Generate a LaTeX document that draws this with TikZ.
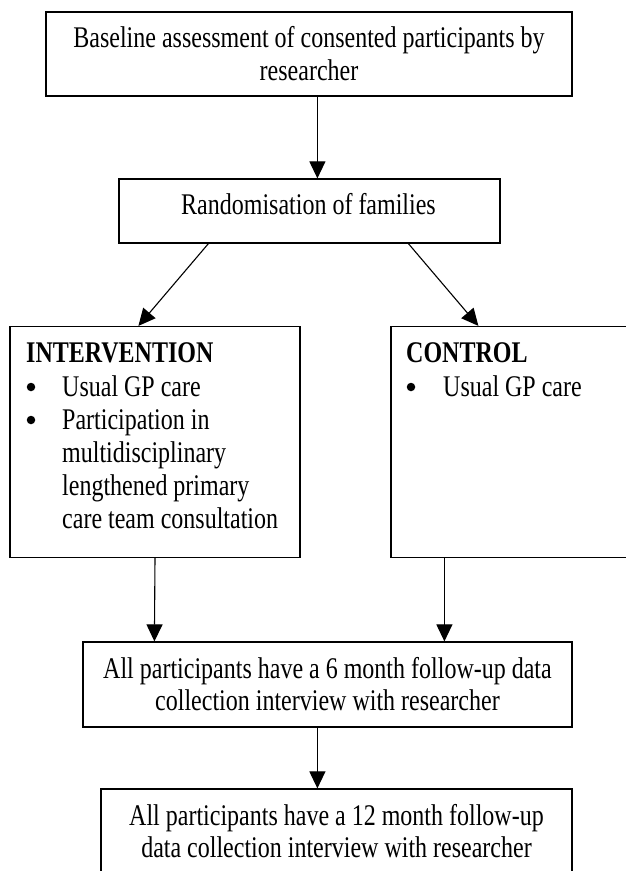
\documentclass[tikz,border=0pt]{standalone}
\usepackage{fontspec}
\setmainfont{Liberation Serif}[FakeStretch=0.80]
\usetikzlibrary{arrows.meta}
\tikzset{
  boxwh/.style 2 args={draw, line width=1.2pt, minimum width=#1, minimum height=#2, inner sep=0pt},
  conn/.style={-{Triangle[length=17pt,width=16pt]}, line width=1.1pt},
  txt/.style={inner sep=0pt, anchor=base, font=\fontsize{30}{33}\selectfont},
  txtl/.style={inner sep=0pt, anchor=base west, font=\fontsize{30}{33}\selectfont},
  txtb/.style={inner sep=0pt, anchor=base west, font=\fontsize{30}{33}\selectfont\bfseries},
  bul/.style={circle, fill, inner sep=0pt, minimum size=8.5pt},
}
\begin{document}
\begin{tikzpicture}[x=1pt, y=-1pt]
\useasboundingbox (0,0) rectangle (626,871);
\fill[white] (0,0) rectangle (626,871);
\clip (0,0) rectangle (626,871);
% boxes
\node[boxwh={526pt}{84pt}] (top) at (309,54) {};
\node[boxwh={381pt}{64pt}] (rand) at (309.5,211) {};
\node[boxwh={290pt}{231pt}] (interv) at (155,442) {};
\node[boxwh={290pt}{231pt}] (ctrl) at (536,442) {};
\node[boxwh={489pt}{85pt}] (six) at (327.5,684.5) {};
\node[boxwh={471pt}{91pt}] (twelve) at (336.5,834.5) {};
% texts
\node[txt] (t1a) at (309,47) {Baseline assessment of consented participants by};
\node[txt] (t1b) at (309,80) {researcher};
\node[txt] (t2) at (308.5,214) {Randomisation of families};
\node[txtb] (t3h) at (26,362) {INTERVENTION};
\node[bul] (b3a) at (31,387) {};
\node[txtl] (t3a) at (62,396) {Usual GP care};
\node[bul] (b3b) at (31,420) {};
\node[txtl] (t3b) at (62,429) {Participation in};
\node[txtl] (t3c) at (62,462) {multidisciplinary};
\node[txtl] (t3d) at (62,495) {lengthened primary};
\node[txtl] (t3e) at (62,528) {care team consultation};
\node[txtb] (t4h) at (406,362) {CONTROL};
\node[bul] (b4a) at (411,387) {};
\node[txtl] (t4a) at (443,396) {Usual GP care};
\node[txt] (t5a) at (327.5,678) {All participants have a 6 month follow-up data};
\node[txt] (t5b) at (327.5,710) {collection interview with researcher};
\node[txt] (t6a) at (336.5,825) {All participants have a 12 month follow-up};
\node[txt] (t6b) at (336.5,857) {data collection interview with researcher};
% connectors
\draw[conn] ([xshift=272pt]top.south west) -- ([xshift=199pt]rand.north west);
\draw[conn] ([xshift=90pt]rand.south west) -- ([xshift=129pt]interv.north west);
\draw[conn] ([xshift=290pt]rand.south west) -- ([xshift=88pt]ctrl.north west);
\draw[conn] (interv.south) -- ([xshift=72pt]six.north west);
\draw[conn] ([xshift=54pt]ctrl.south west) -- ([xshift=362pt]six.north west);
\draw[conn] ([xshift=235pt]six.south west) -- ([xshift=217pt]twelve.north west);
\end{tikzpicture}
\end{document}
